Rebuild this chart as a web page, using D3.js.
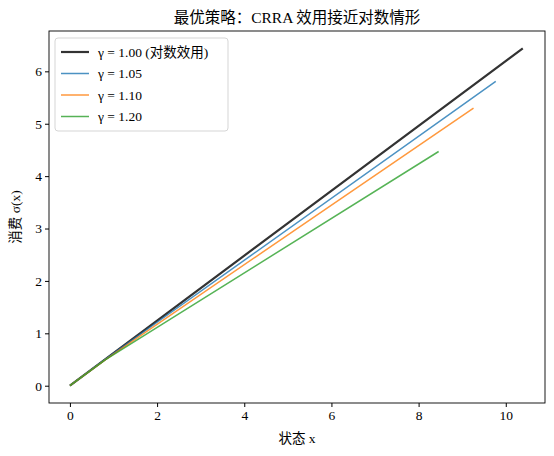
<!DOCTYPE html>
<html><head><meta charset="utf-8">
<script src="https://cdn.jsdelivr.net/npm/d3@7"></script>
<style>
body{margin:0;background:#fff}
text{font-family:"Liberation Serif","DejaVu Serif","Noto Sans CJK SC",serif;}
</style></head><body>
<svg id="chart" width="554" height="456"></svg>
<script>
// данные
const labels = ["γ = 1.00 (对数效用)", "γ = 1.05", "γ = 1.10", "γ = 1.20"];
const colors = ["#333333", "#1f77b4", "#ff7f0e", "#2ca02c"];
const widths = [2.2, 1.5, 1.5, 1.5];
const midX = [0.8, 0.8, 0.8, 0.8];
const midY = [0.50, 0.50, 0.49, 0.49];
const endX = [10.39, 9.77, 9.26, 8.46];
const endY = [6.44, 5.81, 5.30, 4.47];
const xTicks = [0, 2, 4, 6, 8, 10];
const yTicks = [0, 1, 2, 3, 4, 5, 6];

const margin = {top: 31, right: 9, bottom: 53, left: 49};
const width = 554, height = 456;
const svg = d3.select("#chart");

const x = d3.scaleLinear().domain([-0.48, 10.9]).range([margin.left, width - margin.right]);
const y = d3.scaleLinear().domain([-0.33, 6.77]).range([height - margin.bottom, margin.top]);

// линии
const line = d3.line().x(d => x(d[0])).y(d => y(d[1]));
labels.forEach((l, i) => {
  svg.append("path")
    .datum([[0, 0], [midX[i], midY[i]], [endX[i], endY[i]]])
    .attr("d", line)
    .attr("fill", "none")
    .attr("stroke", colors[i])
    .attr("stroke-width", widths[i])
    .attr("opacity", i === 0 ? 1 : 0.8);
});

// оси
svg.append("g").attr("transform", `translate(0,${height - margin.bottom})`)
  .call(d3.axisBottom(x).tickValues(xTicks).tickSize(4).tickFormat(d3.format("d")))
  .call(g => g.selectAll("text").attr("font-size", 13.5).attr("fill", "#000"));
svg.append("g").attr("transform", `translate(${margin.left},0)`)
  .call(d3.axisLeft(y).tickValues(yTicks).tickSize(4).tickFormat(d3.format("d")))
  .call(g => g.selectAll("text").attr("font-size", 13.5).attr("fill", "#000"));
svg.selectAll(".domain").remove();
svg.append("rect")
  .attr("x", margin.left).attr("y", margin.top)
  .attr("width", width - margin.left - margin.right)
  .attr("height", height - margin.top - margin.bottom)
  .attr("fill", "none").attr("stroke", "#000").attr("stroke-width", 0.9);

// подписи
svg.append("text").attr("x", (margin.left + width - margin.right) / 2).attr("y", 23)
  .attr("text-anchor", "middle").attr("font-size", 15.5).text("最优策略：CRRA 效用接近对数情形");
svg.append("text").attr("x", (margin.left + width - margin.right) / 2).attr("y", 443)
  .attr("text-anchor", "middle").attr("font-size", 13.5).text("状态 x");
svg.append("text").attr("transform", `translate(20,${(margin.top + height - margin.bottom) / 2}) rotate(-90)`)
  .attr("text-anchor", "middle").attr("font-size", 13.5).text("消费 σ(x)");

// легенда
const lg = svg.append("g").attr("transform", "translate(55,38)");
lg.append("rect").attr("width", 173).attr("height", 93).attr("rx", 3)
  .attr("fill", "#fff").attr("opacity", 0.8).attr("stroke", "#ccc");
labels.forEach((l, i) => {
  const yy = 14 + i * 21.5;
  lg.append("line").attr("x1", 6).attr("x2", 34).attr("y1", yy).attr("y2", yy)
    .attr("stroke", colors[i]).attr("stroke-width", widths[i]).attr("opacity", i === 0 ? 1 : 0.8);
  lg.append("text").attr("x", 43).attr("y", yy + 4.5).attr("font-size", 13.5).text(l);
});
</script></body></html>
